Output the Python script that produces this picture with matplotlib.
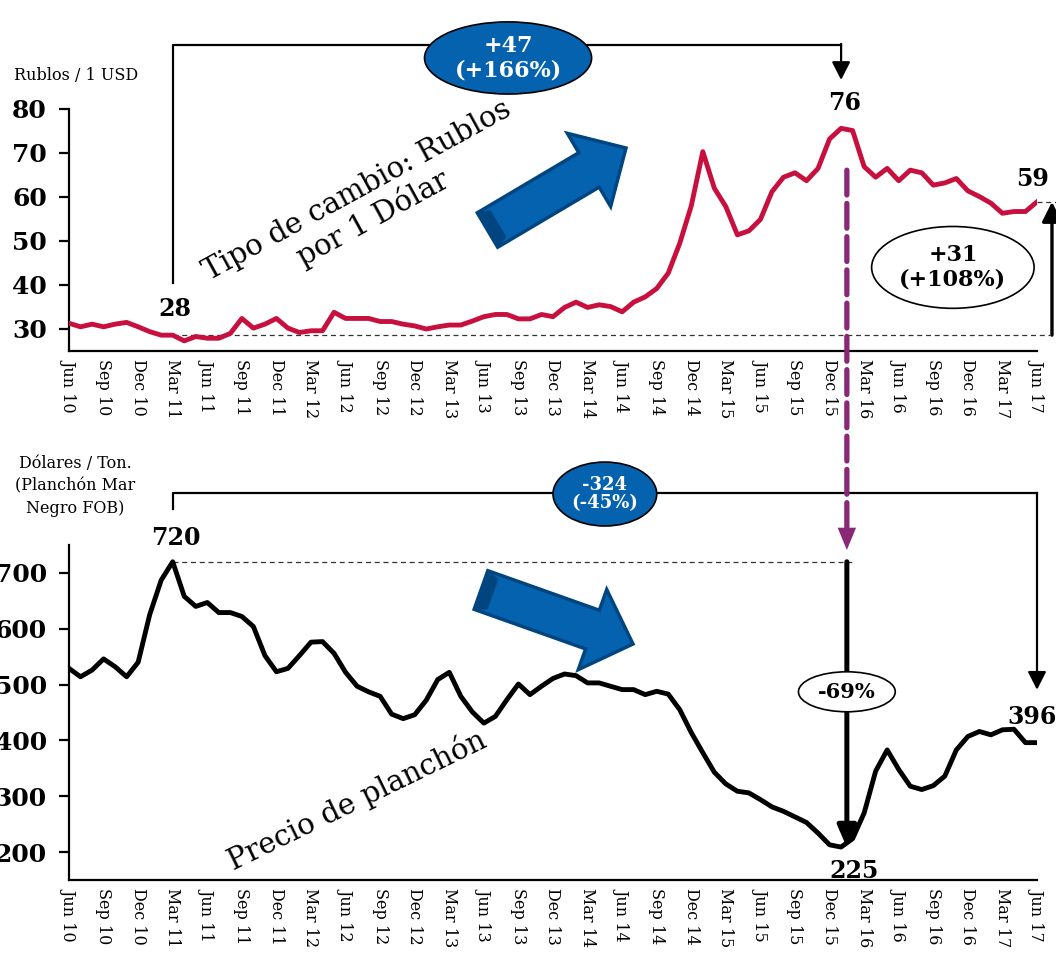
"""
Tipo de cambio rublo/dólar vs. precio del planchón (Mar Negro FOB),
jun-2010 a jun-2017, datos mensuales.
"""
import numpy as np
import matplotlib.pyplot as plt
from matplotlib.patches import Ellipse, Polygon, ConnectionPatch

W, H = 1056, 958

tick_labels = ['Jun 10', 'Sep 10', 'Dec 10', 'Mar 11', 'Jun 11', 'Sep 11',
               'Dec 11', 'Mar 12', 'Jun 12', 'Sep 12', 'Dec 12', 'Mar 13',
               'Jun 13', 'Sep 13', 'Dec 13', 'Mar 14', 'Jun 14', 'Sep 14',
               'Dec 14', 'Mar 15', 'Jun 15', 'Sep 15', 'Dec 15', 'Mar 16',
               'Jun 16', 'Sep 16', 'Dec 16', 'Mar 17', 'Jun 17']

rublos = [31.3, 30.5, 31.1, 30.5, 31.1, 31.5, 30.5, 29.4, 28.6, 28.6,
          27.3, 28.3, 27.9, 27.9, 29.0, 32.4, 30.2, 31.1, 32.4, 30.2,
          29.2, 29.6, 29.6, 33.8, 32.4, 32.4, 32.4, 31.7, 31.7, 31.1,
          30.7, 30.0, 30.5, 30.9, 30.9, 31.8, 32.8, 33.3, 33.3, 32.3,
          32.3, 33.3, 32.8, 34.9, 36.1, 34.9, 35.5, 35.1, 33.9, 36.1,
          37.3, 39.2, 42.7, 49.5, 58.0, 70.3, 62.0, 57.8, 51.4, 52.3,
          54.9, 61.2, 64.5, 65.5, 63.7, 66.5, 73.2, 75.6, 75.1, 66.9,
          64.5, 66.5, 63.7, 66.1, 65.5, 62.7, 63.2, 64.2, 61.4, 60.1,
          58.6, 56.3, 56.7, 56.7, 58.9]

planchon = [529, 514, 526, 546, 532, 514, 540, 625, 687, 720,
            658, 640, 647, 629, 629, 622, 604, 552, 523, 529,
            552, 576, 577, 556, 522, 497, 487, 479, 447, 439,
            446, 472, 509, 522, 479, 451, 431, 443, 473, 501,
            482, 497, 511, 519, 516, 503, 503, 497, 491, 491,
            482, 488, 483, 455, 414, 378, 343, 322, 309, 306,
            294, 281, 273, 263, 253, 234, 213, 209, 224, 270,
            345, 383, 348, 318, 312, 319, 336, 383, 407, 416,
            410, 419, 420, 396, 396]

RED = '#C8103F'
BLUE = '#0562AE'
DARK_BLUE = '#00457F'
PURPLE = '#8A2878'

plt.rcParams['font.family'] = 'DejaVu Serif'


def fpx(x, y):
    """pixel (desde arriba a la izquierda) -> fracción de figura"""
    return (x / W, 1 - y / H)


def block_arrow(fig, tail, tip, shaft, head_w, head_len):
    """flecha gruesa azul con un bisel oscuro en la cola"""
    tail = np.array(tail, float)
    tip = np.array(tip, float)
    u = (tip - tail) / np.linalg.norm(tip - tail)
    n = np.array([-u[1], u[0]])
    base = tip - u * head_len
    pts = [tail + n * shaft / 2, base + n * shaft / 2, base + n * head_w / 2,
           tip, base - n * head_w / 2, base - n * shaft / 2,
           tail - n * shaft / 2]
    fig.add_artist(Polygon([fpx(*p) for p in pts], closed=True,
                           transform=fig.transFigure, fc=BLUE,
                           ec=DARK_BLUE, lw=2.5, joinstyle='miter'))
    bevel = [tail + n * shaft / 2, tail + u * 12 + n * (shaft / 2 - 5),
             tail + u * 12 - n * (shaft / 2 - 5), tail - n * shaft / 2]
    fig.add_artist(Polygon([fpx(*p) for p in bevel], closed=True,
                           transform=fig.transFigure, fc=DARK_BLUE,
                           ec=DARK_BLUE, lw=1))


def style_axes(ax):
    for side in ['top', 'right']:
        ax.spines[side].set_visible(False)
    for side in ['left', 'bottom']:
        ax.spines[side].set_linewidth(1.6)
    ax.set_xlim(0, 84)
    ax.set_xticks(range(0, 85, 3))
    ax.set_xticklabels(tick_labels, rotation=270, fontsize=11.5)
    ax.tick_params(axis='x', length=0, pad=6)
    ax.tick_params(axis='y', direction='out', length=7, width=1.6, pad=9,
                   labelsize=18)
    for lab in ax.get_yticklabels():
        lab.set_fontweight('bold')


def arrow(ax, start, end, lw, hw, hl):
    ax.annotate('', xy=end, xytext=start, annotation_clip=False,
                arrowprops=dict(arrowstyle='-|>,head_width=%s,head_length=%s'
                                % (hw, hl), lw=lw, color='black',
                                shrinkA=0, shrinkB=0, mutation_scale=20))


def main():
    x = np.arange(len(rublos))
    fig = plt.figure(figsize=(W / 100, H / 100), dpi=100)

    # tipo de cambio
    ax1 = fig.add_axes([69 / W, 1 - 351 / H, 968 / W, 242 / H])
    ax1.plot(x, rublos, color=RED, lw=3.5, solid_joinstyle='round', zorder=3)
    ax1.set_ylim(25, 80)
    ax1.set_yticks(range(30, 81, 10))
    style_axes(ax1)

    ax1.plot([9, 85.1], [28.6, 28.6], ls=(0, (4, 3)), lw=0.9,
             color='#333333', clip_on=False)
    ax1.plot([84, 86], [58.9, 58.9], ls=(0, (4, 3)), lw=0.9,
             color='#333333', clip_on=False)
    ax1.plot([9, 9, 67], [40.5, 94.5, 94.5], color='black', lw=1.6,
             clip_on=False)
    arrow(ax1, (67, 94.8), (67, 86.6), 1.6, 0.28, 0.55)
    arrow(ax1, (85.3, 28.6), (85.3, 58.9), 2.4, 0.3, 0.6)

    ax1.add_patch(Ellipse((38.1, 91.6), 14.5, 16.4, fc=BLUE, ec='black',
                          lw=1.2, clip_on=False, zorder=5))
    ax1.text(38.1, 91.6, '+47\n(+166%)', color='white', fontsize=16,
             fontweight='bold', ha='center', va='center', zorder=6,
             linespacing=1.15)
    ax1.add_patch(Ellipse((76.7, 44.0), 14.1, 18.6, fc='white', ec='black',
                          lw=1.2, clip_on=False, zorder=5))
    ax1.text(76.7, 44.0, '+31\n(+108%)', fontsize=16, fontweight='bold',
             ha='center', va='center', zorder=6, linespacing=1.15)

    ax1.text(9.2, 34.5, '28', fontsize=17, fontweight='bold', ha='center',
             va='center')
    ax1.text(67.3, 81.4, '76', fontsize=17, fontweight='bold', ha='center',
             va='center', clip_on=False)
    ax1.text(83.6, 64.1, '59', fontsize=17, fontweight='bold', ha='center',
             va='center', clip_on=False)
    ax1.text(25.7, 58.2, 'Tipo de cambio: Rublos\npor 1 Dólar', fontsize=21,
             rotation=28.7, ha='center', va='center', linespacing=1.1)
    fig.text(*fpx(76, 75), 'Rublos / 1 USD', fontsize=11.5, ha='center',
             va='center')

    # precio del planchón
    ax2 = fig.add_axes([69 / W, 1 - 880 / H, 968 / W, 335 / H])
    ax2.plot(x, planchon, color='black', lw=3.5, solid_joinstyle='round',
             zorder=3)
    ax2.set_ylim(150, 750)
    ax2.set_yticks(range(200, 701, 100))
    style_axes(ax2)

    ax2.plot([9, 68.2], [720, 720], ls=(0, (4, 3)), lw=0.9, color='#333333')
    ax2.plot([9, 9, 84], [814, 843, 843], color='black', lw=1.6,
             clip_on=False)
    arrow(ax2, (84, 843.5), (84, 490.7), 1.6, 0.28, 0.55)
    arrow(ax2, (67.5, 720), (67.5, 208), 3.6, 0.28, 0.65)

    ax2.add_patch(Ellipse((46.5, 841.3), 9.0, 114.5, fc=BLUE, ec='black',
                          lw=1.2, clip_on=False, zorder=5))
    ax2.text(46.5, 841.3, '-324\n(-45%)', color='white', fontsize=13,
             fontweight='bold', ha='center', va='center', zorder=6,
             linespacing=1.05)
    ax2.add_patch(Ellipse((67.5, 487.1), 8.4, 71.6, fc='white', ec='black',
                          lw=1.2, zorder=5))
    ax2.text(67.5, 487.1, '-69%', fontsize=15, fontweight='bold',
             ha='center', va='center', zorder=6)

    ax2.text(9.3, 762.6, '720', fontsize=17, fontweight='bold', ha='center',
             va='center', clip_on=False)
    ax2.text(68.1, 166.9, '225', fontsize=17, fontweight='bold',
             ha='center', va='center')
    ax2.text(83.6, 442.4, '396', fontsize=17, fontweight='bold',
             ha='center', va='center', clip_on=False)
    ax2.text(25.0, 293.9, 'Precio de planchón', fontsize=21, rotation=26,
             ha='center', va='center')
    fig.text(*fpx(75, 486), 'Dólares / Ton.\n(Planchón Mar\nNegro FOB)',
             fontsize=11.5, ha='center', va='center', linespacing=1.45)

    # flecha punteada que une el máximo del rublo con el precio
    con = ConnectionPatch(xyA=(67.5, 66.1), coordsA=ax1.transData,
                          xyB=(67.5, 781), coordsB=ax2.transData,
                          color=PURPLE, lw=3.8, ls=(0, (4.7, 1.6)),
                          zorder=4)
    fig.add_artist(con)
    ax2.add_patch(Polygon([(66.7, 781), (68.3, 781), (67.5, 741)],
                          closed=True, fc=PURPLE, ec='none', clip_on=False))

    block_arrow(fig, (487.5, 230), (626, 148), 40, 85, 43)
    block_arrow(fig, (481, 590), (633, 644), 41, 85, 43)

    plt.savefig('out.png', dpi=100)


if __name__ == '__main__':
    main()
